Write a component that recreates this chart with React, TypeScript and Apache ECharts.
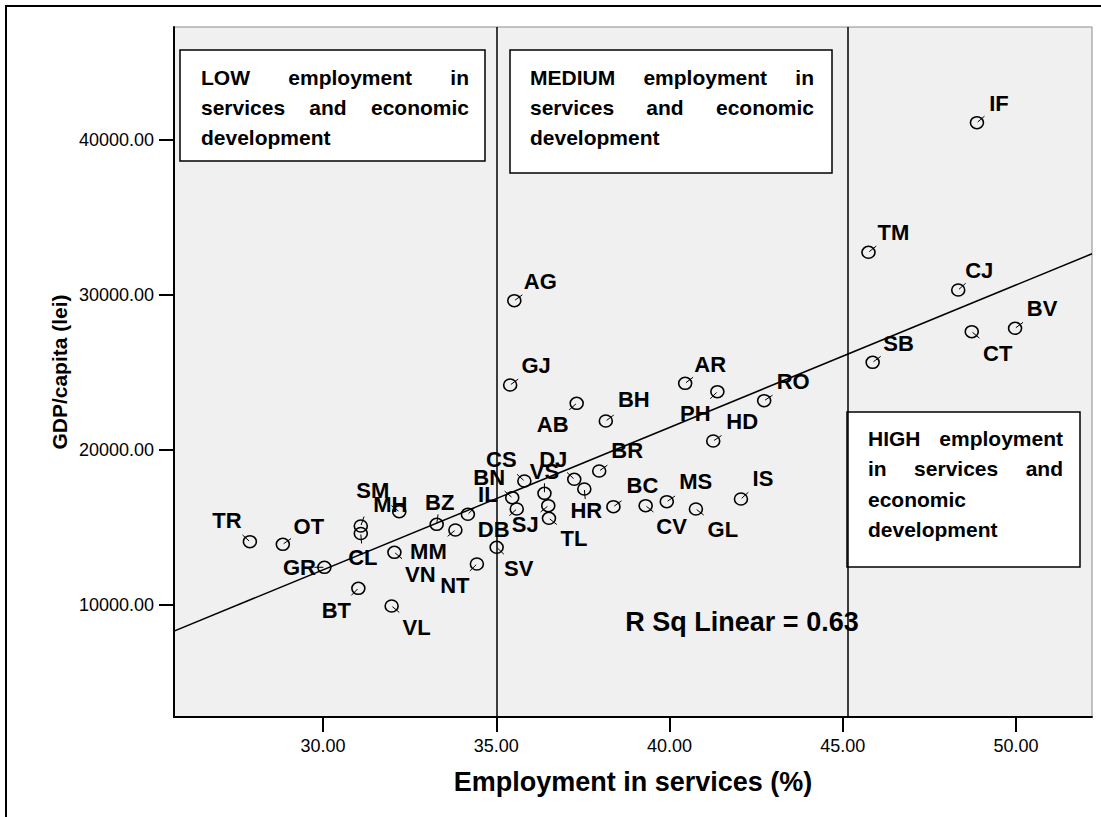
import React, { useEffect, useRef } from "react";
import * as echarts from "echarts";

// ---------- data ----------
const regions = [
  "TR", "OT", "GR", "SM", "CL", "BT", "MH", "VN", "VL", "BZ", "IL", "MM", "NT", "SV",
  "CS", "BN", "DB", "VS", "SJ", "TL", "DJ", "HR", "BR", "BC", "CV", "MS", "GL", "IS",
  "AB", "BH", "AR", "PH", "RO", "HD", "GJ", "AG", "IF", "TM", "CJ", "BV", "CT", "SB",
];
const employment = [
  27.89, 28.84, 30.04, 31.09, 31.09, 31.02, 32.2, 32.06, 31.98, 33.28, 34.18, 33.82, 34.44, 35.01,
  35.81, 35.46, 35.59, 36.39, 36.5, 36.52, 37.25, 37.54, 37.97, 38.38, 39.31, 39.92, 40.76, 42.06,
  37.32, 38.16, 40.45, 41.38, 42.73, 41.26, 35.4, 35.52, 48.87, 45.74, 48.33, 49.97, 48.72, 45.86,
];
const gdpPerCapita = [
  14084, 13916, 12432, 15097, 14613, 11077, 16019, 13400, 9935, 15206, 15852, 14839, 12645, 13723,
  18000, 16923, 16194, 17206, 16406, 15594, 18110, 17484, 18645, 16342, 16406, 16665, 16194, 16839,
  23013, 21871, 24303, 23761, 23181, 20581, 24194, 29632, 41116, 32755, 30323, 27852, 27632, 25658,
];
const xTicks = [30, 35, 40, 45, 50];
const yTicks = [10000, 20000, 30000, 40000];
const thresholds = [35, 45.15];
const rSquared = 0.63;
const xRange = [25.7, 52.19];
const yRange = [2774, 47290];

const boxTexts = {
  low: ["LOW employment in", "services and economic", "development"],
  medium: ["MEDIUM employment in", "services and economic", "development"],
  high: ["HIGH employment", "in services and", "economic", "development"],
};

// ---------- layout (not data) ----------
const labelOffset: Record<string, [number, number]> = {
  TR: [-23, -21], OT: [26, -18], GR: [-25, 0], SM: [12, -35], CL: [2, 24], BT: [-22, 22],
  MH: [-9, -7], VN: [26, 22], VL: [25, 21], BZ: [3, -22], IL: [20, -20], MM: [-27, 22],
  NT: [-22, 22], SV: [22, 21], CS: [-23, -21], BN: [-23, -20], DB: [-23, 21], VS: [0, -22],
  SJ: [-23, 19], TL: [25, 20], DJ: [-21, -20], HR: [2, 22], BR: [28, -20], BC: [29, -21],
  CV: [26, 21], MS: [29, -20], GL: [27, 21], IS: [22, -20], AB: [-24, 21], BH: [28, -21],
  AR: [25, -19], PH: [-22, 22], RO: [29, -19], HD: [29, -19], GJ: [26, -19], AG: [26, -19],
  IF: [22, -19], TM: [25, -20], CJ: [21, -19], BV: [27, -20], CT: [26, 22], SB: [26, -19],
};

const FONT = '"Liberation Sans", Arial, Helvetica, sans-serif';
const BOX_FONT = `bold 21px ${FONT}`;

function measure(text: string, font: string): number {
  const ctx = document.createElement("canvas").getContext("2d")!;
  ctx.font = font;
  return ctx.measureText(text).width;
}

function textBox(
  lines: string[],
  left: number,
  top: number,
  width: number,
  height: number,
  padL: number,
  padR: number,
  firstLine: number,
  lineH: number,
  justifyCount: number
) {
  const children: any[] = [
    {
      type: "rect",
      shape: { x: left, y: top, width, height },
      style: { fill: "#fff", stroke: "#000", lineWidth: 1.5 },
    },
  ];
  const tl = left + padL;
  const tr = left + width - padR;
  lines.forEach((line, i) => {
    const y = top + firstLine + i * lineH;
    const words = line.split(" ");
    if (i < justifyCount && words.length > 1) {
      const ws = words.map((w) => measure(w, BOX_FONT));
      const total = ws.reduce((a, b) => a + b, 0);
      const gap = (tr - tl - total) / (words.length - 1);
      let x = tl;
      words.forEach((w, j) => {
        children.push({
          type: "text",
          x,
          y,
          style: { text: w, font: BOX_FONT, fill: "#000", align: "left", verticalAlign: "middle", textAlign: "left", textVerticalAlign: "middle" },
        });
        x += ws[j] + gap;
      });
    } else {
      children.push({
        type: "text",
        x: tl,
        y,
        style: { text: line, font: BOX_FONT, fill: "#000", align: "left", verticalAlign: "middle", textAlign: "left", textVerticalAlign: "middle" },
      });
    }
  });
  return { type: "group", z: 100, children };
}

function linearFit(xs: number[], ys: number[]) {
  const n = xs.length;
  const mx = xs.reduce((a, b) => a + b, 0) / n;
  const my = ys.reduce((a, b) => a + b, 0) / n;
  let sxy = 0;
  let sxx = 0;
  for (let i = 0; i < n; i++) {
    sxy += (xs[i] - mx) * (ys[i] - my);
    sxx += (xs[i] - mx) * (xs[i] - mx);
  }
  const b = sxy / sxx;
  return { a: my - b * mx, b };
}

export default function App() {
  const ref = useRef<HTMLDivElement>(null);

  useEffect(() => {
    if (!ref.current) return;
    const chart = echarts.init(ref.current, undefined, { renderer: "svg" });
    const fit = linearFit(employment, gdpPerCapita);
    const points = employment.map((x, i) => [x, gdpPerCapita[i], regions[i]]);

    const option: any = {
      animation: false,
      backgroundColor: "#fff",
      grid: {
        left: 174,
        right: 9,
        top: 27,
        bottom: 100,
        show: true,
        backgroundColor: "#F0F0F0",
        borderColor: "#8a8a8a",
        borderWidth: 1,
      },
      xAxis: {
        type: "value",
        min: xRange[0],
        max: xRange[1],
        name: "Employment in services (%)",
        nameLocation: "middle",
        nameGap: 51,
        nameMoveOverlap: false,
        nameTextStyle: { fontFamily: FONT, fontWeight: "bold", fontSize: 27, color: "#000" },
        axisLine: { show: true, onZero: false, lineStyle: { color: "#000", width: 2 } },
        axisTick: { show: true, length: 15, customValues: xTicks, lineStyle: { color: "#000", width: 2 } },
        axisLabel: {
          customValues: xTicks,
          formatter: (v: number) => v.toFixed(2),
          fontFamily: FONT,
          fontSize: 18,
          color: "#000",
          margin: 20,
        },
        splitLine: { show: false },
      },
      yAxis: {
        type: "value",
        min: yRange[0],
        max: yRange[1],
        name: "GDP/capita (lei)",
        nameLocation: "middle",
        nameGap: 104,
        nameMoveOverlap: false,
        nameTextStyle: { fontFamily: FONT, fontWeight: "bold", fontSize: 21, color: "#000" },
        axisLine: { show: true, onZero: false, lineStyle: { color: "#000", width: 2 } },
        axisTick: { show: true, length: 15, customValues: yTicks, lineStyle: { color: "#000", width: 2 } },
        axisLabel: {
          customValues: yTicks,
          formatter: (v: number) => v.toFixed(2),
          fontFamily: FONT,
          fontSize: 18,
          color: "#000",
          margin: 20,
        },
        splitLine: { show: false },
      },
      series: [
        {
          type: "line",
          data: [
            [xRange[0], fit.a + fit.b * xRange[0]],
            [xRange[1], fit.a + fit.b * xRange[1]],
          ],
          symbol: "none",
          lineStyle: { color: "#000", width: 1.5 },
          silent: true,
          z: 2,
          markLine: {
            silent: true,
            symbol: "none",
            label: { show: false },
            lineStyle: { color: "#000", width: 1.5, type: "solid" },
            data: thresholds.map((t) => ({ xAxis: t })),
          },
        },
        {
          type: "custom",
          z: 5,
          data: points,
          renderItem: (params: any, api: any) => {
            const [cx, cy] = api.coord([api.value(0), api.value(1)]);
            const name = regions[params.dataIndex];
            const [dx, dy] = labelOffset[name] || [22, -20];
            const len = Math.hypot(dx, dy) || 1;
            const ux = dx / len;
            const uy = dy / len;
            return {
              type: "group",
              children: [
                {
                  type: "ellipse",
                  shape: { cx, cy, rx: 6.5, ry: 6 },
                  style: { fill: "none", stroke: "#000", lineWidth: 1.6 },
                },
                {
                  type: "line",
                  shape: { x1: cx + ux * 1, y1: cy + uy * 1, x2: cx + ux * 10, y2: cy + uy * 10 },
                  style: { stroke: "#000", lineWidth: 1 },
                },
                {
                  type: "text",
                  x: cx + dx,
                  y: cy + dy,
                  style: {
                    text: name,
                    font: `bold 22px ${FONT}`,
                    fill: "#000",
                    align: "center",
                    verticalAlign: "middle",
                    textAlign: "center",
                    textVerticalAlign: "middle",
                  },
                },
              ],
            };
          },
        },
      ],
      graphic: [
        {
          type: "rect",
          z: 0,
          silent: true,
          shape: { x: 6, y: 6, width: 1200, height: 1000 },
          style: { fill: "none", stroke: "#000", lineWidth: 2 },
        },
        textBox(boxTexts.low, 180, 50, 305, 111, 21, 16, 27.5, 30, 2),
        textBox(boxTexts.medium, 510, 50, 322, 123, 20, 18, 27.5, 30, 2),
        textBox(boxTexts.high, 847, 412, 233, 155, 21, 17, 26.3, 30.5, 2),
        {
          type: "text",
          z: 100,
          x: 742,
          y: 622,
          style: {
            text: `R Sq Linear = ${rSquared.toFixed(2)}`,
            font: `bold 27px ${FONT}`,
            fill: "#000",
            align: "center",
            verticalAlign: "middle",
            textAlign: "center",
            textVerticalAlign: "middle",
          },
        },
      ],
    };
    chart.setOption(option);
    return () => chart.dispose();
  }, []);

  return (
    <div
      ref={ref}
      style={{ position: "fixed", left: 0, top: 0, width: 1101, height: 817, background: "#fff" }}
    />
  );
}
